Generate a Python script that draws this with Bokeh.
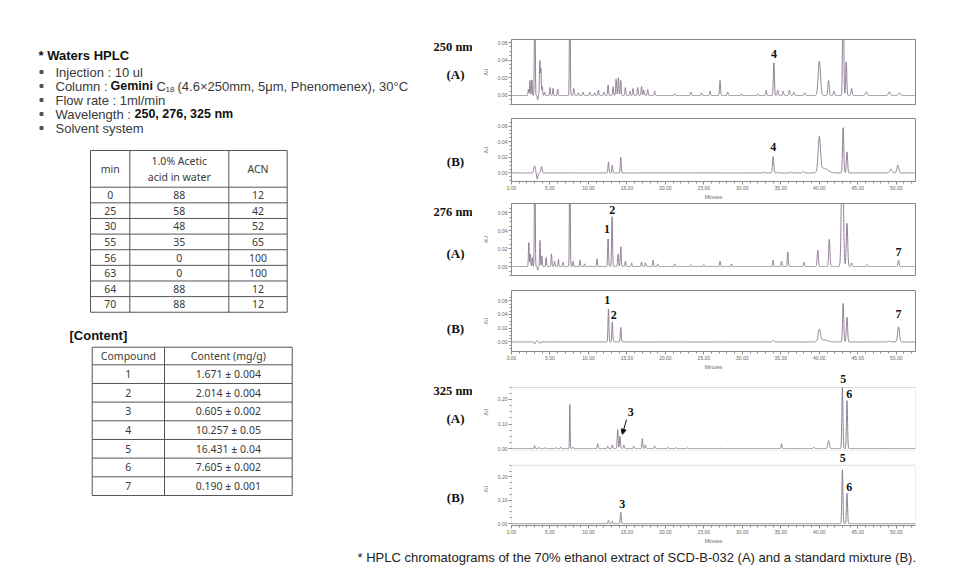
import numpy as np
from bokeh.plotting import figure
from bokeh.layouts import row, column
from bokeh.models import Range1d, FixedTicker, PrintfTickFormatter, Label, Arrow, NormalHead, BoxAnnotation
from bokeh.core.properties import value
from bokeh.embed import file_html
from bokeh.resources import INLINE

# ---------------- data ----------------
grad_min = ["0", "25", "30", "55", "56", "63", "64", "70"]
grad_acid = ["88", "58", "48", "35", "0", "0", "88", "88"]
grad_acn = ["12", "42", "52", "65", "100", "100", "12", "12"]

compounds = ["1", "2", "3", "4", "5", "6", "7"]
contents = ["1.671 \u00b1 0.004", "2.014 \u00b1 0.004", "0.605 \u00b1 0.002", "10.257 \u00b1 0.05",
            "16.431 \u00b1 0.04", "7.605 \u00b1 0.002", "0.190 \u00b1 0.001"]

minute_ticks = [0, 5, 10, 15, 20, 25, 30, 35, 40, 45, 50]
au_ticks_small = [0.0, 0.02, 0.04, 0.06]
au_ticks_large = [0.0, 0.10, 0.20]

# peak tables: retention time (min), height (AU), width (min)
rt_250A = [2.2, 2.4, 2.65, 3.03, 3.4, 3.68, 3.82, 4.0, 4.3, 5.0, 5.4, 6.0, 7.58, 8.1, 8.7, 9.3, 10.2, 10.8,
           11.3, 12.0, 12.55, 13.2, 13.6, 13.9, 14.2, 14.8, 15.4, 15.8, 16.4, 16.9, 17.2, 17.7, 18.6, 21.2,
           23.3, 24.7, 25.8, 27.1, 28.1, 29.9, 32.0, 33.1, 34.1, 34.6, 35.3, 36.1, 36.7, 38.1, 40.0, 41.2,
           41.9, 43.1, 43.5, 44.2, 46.1, 49.1, 50.4]
h_250A = [0.007, 0.017, 0.018, 0.15, -0.005, 0.039, 0.03, 0.01, 0.004, 0.009, 0.008, 0.007, 0.15, 0.008,
          0.003, 0.004, 0.004, 0.003, 0.006, 0.004, 0.012, 0.010, 0.019, 0.020, 0.017, 0.009, 0.005, 0.008,
          0.009, 0.010, 0.006, 0.007, 0.005, 0.002, 0.004, 0.003, 0.005, 0.017, 0.004, 0.002, 0.002, 0.006,
          0.037, 0.006, 0.005, 0.006, 0.004, 0.003, 0.039, 0.017, 0.005, 0.15, 0.038, 0.008, 0.004, 0.004,
          0.003]
w_250A = [0.05] * 12 + [0.05] + [0.06] * 29 + [0.07, 0.07, 0.07, 0.08, 0.08, 0.08, 0.15, 0.09, 0.08, 0.07,
                                                0.07, 0.08, 0.12, 0.12, 0.12]

rt_250B = [3.0, 3.35, 3.9, 12.6, 13.1, 14.2, 32.9, 34.0, 34.6, 36.4, 37.9, 40.0, 40.6, 43.1, 43.6, 49.3, 50.2]
h_250B = [0.009, -0.008, 0.008, 0.014, 0.010, 0.020, 0.001, 0.021, 0.001, 0.001, 0.002, 0.044, 0.006,
          0.058, 0.027, 0.005, 0.010]
w_250B = [0.1, 0.08, 0.08, 0.06, 0.06, 0.06, 0.1, 0.08, 0.08, 0.1, 0.1, 0.15, 0.5, 0.08, 0.08, 0.15, 0.12]

rt_276A = [2.25, 2.45, 2.7, 3.03, 3.4, 3.7, 3.95, 4.5, 5.2, 5.6, 6.1, 6.7, 7.58, 8.0, 8.9, 9.5, 11.1, 12.55,
           13.07, 13.85, 14.2, 14.8, 15.6, 16.9, 17.4, 18.4, 19.0, 21.2, 23.3, 25.0, 27.1, 28.6, 34.0, 35.1,
           35.9, 38.0, 39.8, 41.3, 43.0, 43.6, 44.2, 46.2, 50.3]
h_276A = [0.027, 0.014, 0.010, 0.15, -0.004, 0.029, 0.012, 0.010, 0.014, 0.006, 0.008, 0.005, 0.15, 0.006,
          0.007, 0.003, 0.0085, 0.031, 0.056, 0.014, 0.022, 0.006, 0.004, 0.005, 0.004, 0.007, 0.003, 0.003,
          0.002, 0.002, 0.006, 0.003, 0.007, 0.006, 0.016, 0.005, 0.018, 0.030, 0.15, 0.048, 0.004, 0.002,
          0.007]
w_276A = [0.05] * 17 + [0.06] * 19 + [0.08, 0.08, 0.12, 0.09, 0.08, 0.08, 0.07, 0.1, 0.1]

rt_276B = [3.0, 3.3, 3.7, 12.6, 13.1, 14.2, 34.0, 40.0, 40.6, 43.1, 43.6, 49.1, 50.3]
h_276B = [-0.003, 0.002, -0.002, 0.048, 0.029, 0.021, 0.002, 0.017, 0.003, 0.056, 0.036, 0.001, 0.022]
w_276B = [0.08, 0.08, 0.08, 0.06, 0.06, 0.06, 0.1, 0.15, 0.5, 0.08, 0.08, 0.12, 0.12]

rt_325A = [3.0, 3.6, 4.4, 5.8, 6.4, 7.58, 8.0, 11.2, 12.5, 13.1, 13.8, 14.1, 14.6, 15.9, 17.0, 17.4, 18.6,
           20.3, 21.4, 22.9, 27.1, 35.1, 39.3, 41.2, 43.0, 43.6]
h_325A = [0.012, 0.005, 0.004, 0.004, 0.006, 0.18, 0.006, 0.02, 0.01, 0.015, 0.078, 0.05, 0.015, 0.01, 0.04,
          0.015, 0.01, 0.005, 0.004, 0.003, 0.002, 0.02, 0.005, 0.033, 0.249, 0.195]
w_325A = [0.05] * 5 + [0.04] + [0.06] * 16 + [0.08, 0.1, 0.07, 0.07]

rt_325B = [12.6, 13.1, 14.2, 43.0, 43.6]
h_325B = [0.014, 0.010, 0.048, 0.23, 0.13]
w_325B = [0.06, 0.06, 0.06, 0.07, 0.07]

# peak number labels: text, time, AU
lab_250A = [("4", 34.1, 0.047)]
lab_250B = [("4", 34.0, 0.033)]
lab_276A = [("1", 12.4, 0.042), ("2", 13.1, 0.0625), ("7", 50.3, 0.016)]
lab_276B = [("1", 12.45, 0.061), ("2", 13.3, 0.039), ("7", 50.3, 0.040)]
lab_325A = [("5", 43.1, 0.282), ("6", 43.9, 0.222), ("3", 15.5, 0.15)]
lab_325B = [("5", 43.05, 0.28), ("6", 43.9, 0.156), ("3", 14.4, 0.086)]

# ---------------- style ----------------
TRACE = "#87768c"
AXC = "#8a8a8a"
TXT = "#3a3a3a"
SANS = "Liberation Sans"
SERIF = "Liberation Serif"

t = np.arange(0, 52.5, 0.02)


def trace(rt, hh, ww):
    y = np.zeros_like(t)
    for r, h, w in zip(rt, hh, ww):
        y += h * np.exp(-0.5 * ((t - r) / w) ** 2)
    return y


def panel(rt, hh, ww, yr, yt, ytm, top, frame_h, bottom, show_x, labels, arrow=None, box_top=None):
    p = figure(width=497, height=top + frame_h + bottom, x_range=Range1d(0, 52.5), y_range=Range1d(*yr),
               output_backend="svg", toolbar_location=None, min_border_left=39, min_border_right=54,
               min_border_top=top, min_border_bottom=bottom,
               x_axis_location="below" if show_x else None)
    p.grid.visible = False
    p.line(t, trace(rt, hh, ww), line_color=TRACE, line_width=0.9)
    ya = p.yaxis[0]
    ya.ticker = FixedTicker(ticks=yt, minor_ticks=ytm)
    ya.formatter = PrintfTickFormatter(format="%.2f")
    ya.axis_label = "AU"
    for ax in p.axis:
        ax.axis_line_color = AXC
        ax.major_tick_line_color = AXC
        ax.minor_tick_line_color = AXC
        ax.major_tick_in = 0
        ax.major_tick_out = 3
        ax.minor_tick_in = 0
        ax.minor_tick_out = 2
        ax.major_label_text_font_size = "5px"
        ax.major_label_text_color = "#666"
        ax.major_label_text_font = SANS
        ax.major_label_standoff = 1
        ax.axis_label_text_font_size = "5px"
        ax.axis_label_text_font_style = "normal"
        ax.axis_label_text_color = "#666"
        ax.axis_label_text_font = SANS
    ya.axis_label_standoff = 6
    if box_top is None:
        p.outline_line_color = AXC
        p.outline_line_width = 1
    else:
        # frame reaches above the drawn box so that peak numbers over the box stay visible
        p.outline_line_color = None
        ya.axis_line_color = None
        p.add_layout(BoxAnnotation(left=0, right=52.5, bottom=yr[0], top=box_top, fill_color=None,
                                   line_color=AXC, line_width=1))
    if show_x:
        xa = p.xaxis[0]
        xa.ticker = FixedTicker(ticks=minute_ticks, minor_ticks=list(range(0, 53)))
        xa.formatter = PrintfTickFormatter(format="%.2f")
        xa.axis_label = "Minutes"
        xa.axis_label_standoff = 1
    for txt, lx, ly in labels:
        p.add_layout(Label(x=lx, y=ly, text=txt, text_font=SERIF, text_font_style="bold",
                           text_font_size="12px", text_align="center", text_baseline="middle",
                           text_color="#111"))
    if arrow is not None:
        p.add_layout(Arrow(end=NormalHead(size=5, fill_color="#111", line_color="#111"),
                           x_start=arrow[0], y_start=arrow[1], x_end=arrow[2], y_end=arrow[3],
                           line_color="#111", line_width=1))
    return p


minor_small = [round(0.005 * i, 3) for i in range(-2, 14)]
minor_large = [round(0.025 * i, 3) for i in range(0, 11)]

p1 = panel(rt_250A, h_250A, w_250A, (-0.0102, 0.0634), au_ticks_small, minor_small, 39, 65, 7, False, lab_250A)
p2 = panel(rt_250B, h_250B, w_250B, (-0.011, 0.0698), au_ticks_small, minor_small, 7, 66, 18, True, lab_250B)
p3 = panel(rt_276A, h_276A, w_276A, (-0.010, 0.070), au_ticks_small, minor_small, 1, 72, 8, False, lab_276A)
p4 = panel(rt_276B, h_276B, w_276B, (-0.014, 0.075), au_ticks_small, minor_small, 7, 64, 18, True, lab_276B)
p5 = panel(rt_325A, h_325A, w_325A, (-0.008, 0.306), au_ticks_large, minor_large, 1, 77, 2, False, lab_325A,
           arrow=(14.95, 0.118, 14.4, 0.058), box_top=0.249)
p6 = panel(rt_325B, h_325B, w_325B, (-0.008, 0.3045), au_ticks_large, minor_large, 0, 76, 18, True, lab_325B,
           box_top=0.25)

# ---------------- left canvas ----------------
L = figure(width=472, height=546, x_range=Range1d(0, 472), y_range=Range1d(546, 0), output_backend="svg",
           toolbar_location=None, min_border=0, x_axis_location=None, y_axis_location=None)
L.outline_line_color = None
L.grid.visible = False


def txt(p, x, y, s, size="13px", bold=False, font=SANS, color=TXT, align="left"):
    p.text(x=[x], y=[y], text=[s], text_font=value(font), text_font_size=size,
           text_font_style="bold" if bold else "normal", text_color=color, text_align=align,
           text_baseline="middle")


txt(L, 38, 55, "* Waters HPLC", "13px", True, color="#111")
line_y = [71.5, 85.5, 99.5, 113.5, 127.5]
L.scatter(x=[41] * 5, y=line_y, marker="square", size=3, color="#555")
txt(L, 55, line_y[0], "Injection : 10 ul")
txt(L, 55, line_y[1], "Column : ")
txt(L, 110, line_y[1], "Gemini", "12.5px", bold=True, color="#111")
txt(L, 156, line_y[1], "C")
txt(L, 165, line_y[1] + 3, "18", "8px")
txt(L, 177, line_y[1], "(4.6\u00d7250mm, 5\u03bcm, Phenomenex), 30\u00b0C")
txt(L, 55, line_y[2], "Flow rate : 1ml/min")
txt(L, 55, line_y[3], "Wavelength :")
txt(L, 134, line_y[3], "250, 276, 325 nm", "12.5px", bold=True, color="#111")
txt(L, 55, line_y[4], "Solvent system")

TF = "Noto Sans"
TFS = "10.5px"
LC = "#555"

# gradient table
tx = [90, 129.3, 228.3, 286.7]
ty0, th, tr = 150, 36.7, 15.63
rows_y = [ty0, ty0 + th] + [ty0 + th + tr * (i + 1) for i in range(len(grad_min))]
L.segment(x0=[tx[0]] * len(rows_y), y0=rows_y, x1=[tx[-1]] * len(rows_y), y1=rows_y, line_color=LC,
          line_width=1)
L.segment(x0=tx, y0=[rows_y[0]] * 4, x1=tx, y1=[rows_y[-1]] * 4, line_color=LC, line_width=1)
cx = [(tx[0] + tx[1]) / 2, (tx[1] + tx[2]) / 2, (tx[2] + tx[3]) / 2]
txt(L, cx[0], ty0 + th / 2, "min", TFS, font=TF, align="center")
txt(L, cx[1], ty0 + th / 2 - 8.3, "1.0% Acetic", TFS, font=TF, align="center")
txt(L, cx[1], ty0 + th / 2 + 8.3, "acid in water", TFS, font=TF, align="center")
txt(L, cx[2], ty0 + th / 2, "ACN", TFS, font=TF, align="center")
ry = [ty0 + th + tr * (i + 0.5) for i in range(len(grad_min))]
L.text(x=[cx[0]] * 8, y=ry, text=grad_min, text_font=value(TF), text_font_size=TFS, text_color=TXT,
       text_align="center", text_baseline="middle")
L.text(x=[cx[1]] * 8, y=ry, text=grad_acid, text_font=value(TF), text_font_size=TFS, text_color=TXT,
       text_align="center", text_baseline="middle")
L.text(x=[cx[2]] * 8, y=ry, text=grad_acn, text_font=value(TF), text_font_size=TFS, text_color=TXT,
       text_align="center", text_baseline="middle")

# content table
txt(L, 69, 335, "[Content]", "13px", True, color="#111")
cx0 = [91.7, 164, 291.7]
cy0, ch, cr = 346.7, 17.6, 18.67
crow = [cy0, cy0 + ch] + [cy0 + ch + cr * (i + 1) for i in range(len(compounds))]
L.segment(x0=[cx0[0]] * len(crow), y0=crow, x1=[cx0[-1]] * len(crow), y1=crow, line_color=LC, line_width=1)
L.segment(x0=cx0, y0=[crow[0]] * 3, x1=cx0, y1=[crow[-1]] * 3, line_color=LC, line_width=1)
ccx = [(cx0[0] + cx0[1]) / 2, (cx0[1] + cx0[2]) / 2]
txt(L, ccx[0], cy0 + ch / 2, "Compound", TFS, font=TF, align="center")
txt(L, ccx[1], cy0 + ch / 2, "Content (mg/g)", TFS, font=TF, align="center")
cry = [cy0 + ch + cr * (i + 0.5) for i in range(len(compounds))]
L.text(x=[ccx[0]] * 7, y=cry, text=compounds, text_font=value(TF), text_font_size=TFS, text_color=TXT,
       text_align="center", text_baseline="middle")
L.text(x=[ccx[1]] * 7, y=cry, text=contents, text_font=value(TF), text_font_size=TFS, text_color=TXT,
       text_align="center", text_baseline="middle")

# panel captions
for s, yy in [("250 nm", 46), ("276 nm", 211), ("325 nm", 390)]:
    txt(L, 433, yy, s, "12.5px", True, font=SERIF, color="#111")
for s, yy in [("(A)", 74), ("(B)", 161), ("(A)", 253), ("(B)", 328), ("(A)", 418), ("(B)", 497)]:
    txt(L, 455, yy, s, "13px", True, font=SERIF, color="#111", align="center")

# caption strip
C = figure(width=969, height=39, x_range=Range1d(0, 969), y_range=Range1d(39, 0), output_backend="svg",
           toolbar_location=None, min_border=0, x_axis_location=None, y_axis_location=None)
C.outline_line_color = None
C.grid.visible = False
txt(C, 357, 11, "* HPLC chromatograms of the 70% ethanol extract of SCD-B-032 (A) and a standard mixture (B).",
    "13px", color="#222")

layout = column(row(L, column(p1, p2, p3, p4, p5, p6, spacing=0), spacing=0), C, spacing=0)
open("out.html", "w").write(file_html(layout, INLINE))
